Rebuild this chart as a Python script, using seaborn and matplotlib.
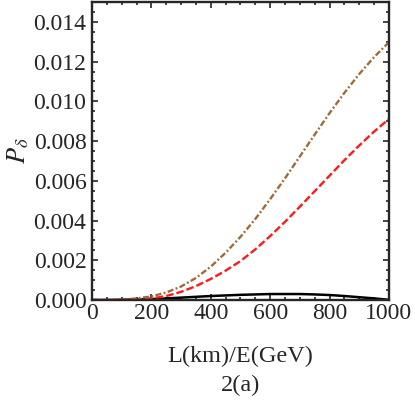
import numpy as np
import pandas as pd
import matplotlib
matplotlib.use("Agg")
import matplotlib.pyplot as plt
from matplotlib.ticker import MultipleLocator, FormatStrFormatter
import seaborn as sns

# L/E grid (km/GeV)
le = [0, 50, 100, 150, 200, 250, 300, 350, 400, 450, 500,
      550, 600, 650, 700, 750, 800, 850, 900, 950, 1000]

p_brown = [0.0, 0.0, 0.00002, 0.00008, 0.00018, 0.00038, 0.00068, 0.00111, 0.00168, 0.00238, 0.00318,
           0.00408, 0.00508, 0.00613, 0.00723, 0.00833, 0.00941, 0.01043, 0.01138, 0.01223, 0.01298]
p_red = [0.0, 0.0, 0.00001, 0.00003, 0.00008, 0.0002, 0.00041, 0.0007, 0.00106, 0.00148, 0.00196,
         0.00255, 0.00322, 0.00394, 0.0047, 0.00548, 0.00626, 0.00704, 0.00778, 0.00848, 0.00912]
p_black = [0.0, 0.0, 0.00001, 0.00003, 0.00005, 0.00008, 0.00012, 0.00016, 0.0002, 0.00023, 0.00026,
           0.00028, 0.0003, 0.0003, 0.0003, 0.00028, 0.00025, 0.0002, 0.00014, 0.00008, 0.00001]

df = pd.DataFrame({"le": le, "brown": p_brown, "red": p_red, "black": p_black})

sns.set_style("ticks")
plt.rcParams["font.family"] = ["Liberation Serif", "DejaVu Serif"]
plt.rcParams["mathtext.fontset"] = "stix"

fig = plt.figure(figsize=(4.15, 4.07), dpi=100)
ax = fig.add_axes([0.2217, 0.2629, 0.7156, 0.7321])

sns.lineplot(data=df, x="le", y="black", ax=ax, color="black", lw=1.8)
sns.lineplot(data=df, x="le", y="red", ax=ax, color="#ff1a1a", lw=1.7,
             linestyle=(0, (3.2, 1.3)))
sns.lineplot(data=df, x="le", y="brown", ax=ax, color="#9e6b3a", lw=1.7,
             linestyle=(0, (2.6, 1.0, 0.8, 1.0)))

ax.set_xlim(0, 1000)
ax.set_ylim(0, 0.015)
ax.xaxis.set_major_locator(MultipleLocator(200))
ax.xaxis.set_minor_locator(MultipleLocator(50))
ax.yaxis.set_major_locator(MultipleLocator(0.002))
ax.yaxis.set_minor_locator(MultipleLocator(0.0005))
ax.yaxis.set_major_formatter(FormatStrFormatter("%.3f"))
ax.tick_params(which="both", direction="in", top=True, right=True,
               labelsize=17, width=1.2)
ax.tick_params(axis="x", pad=2)
ax.tick_params(axis="y", pad=4)
ax.tick_params(which="major", length=4.5)
ax.tick_params(which="minor", length=2.5)
for s in ax.spines.values():
    s.set_linewidth(1.7)

ax.set_xlabel("L(km)/E(GeV)", fontsize=17.5, labelpad=16)
ax.set_ylabel(r"$P_\delta$", fontsize=19, labelpad=2)
fig.text(0.5795, 0.054, "2(a)", ha="center", va="center", fontsize=17.5)

fig.savefig("out.png", dpi=100)
